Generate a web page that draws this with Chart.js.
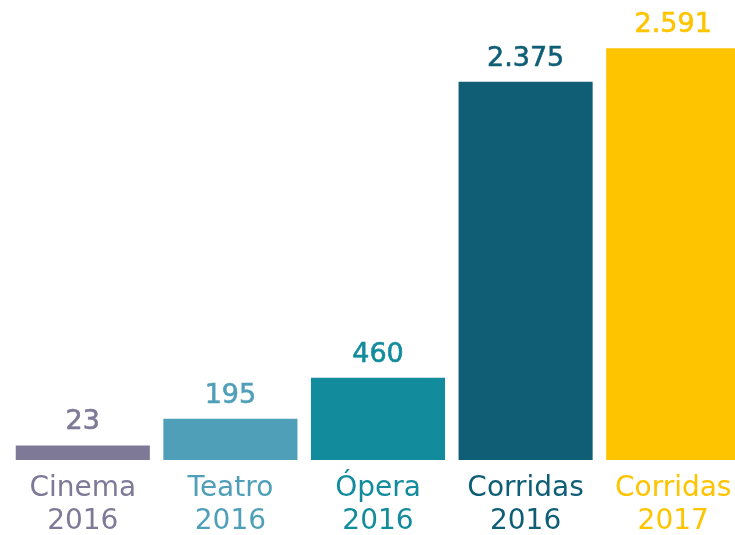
<!DOCTYPE html>
<html>
<head>
<meta charset="utf-8">
<script src="https://cdn.jsdelivr.net/npm/chart.js@4/dist/chart.umd.min.js"></script>
<style>
  html, body { margin: 0; padding: 0; background: #ffffff; overflow: hidden; }
  #wrap { position: relative; width: 747px; height: 550px; }
</style>
</head>
<body>
<div id="wrap"><canvas id="c"></canvas></div>
<script>
const categories = [["Cinema", "2016"], ["Teatro", "2016"], ["Ópera", "2016"], ["Corridas", "2016"], ["Corridas", "2017"]];
const values = [23, 195, 460, 2375, 2591];
const colors = ["#7e7996", "#4f9fb8", "#128c9c", "#0f5e76", "#fec400"];
const axisMin = -71;
const axisMax = 2903;

const FONT = '"DejaVu Sans", sans-serif';

function fmt(v) {
  return String(v).replace(/\B(?=(\d{3})+(?!\d))/g, ".");
}

const valueLabels = {
  id: "valueLabels",
  afterDatasetsDraw(chart) {
    const ctx = chart.ctx;
    const meta = chart.getDatasetMeta(0);
    ctx.save();
    ctx.font = "27px " + FONT;
    ctx.textAlign = "center";
    ctx.textBaseline = "alphabetic";
    ctx.lineWidth = 0.6;
    meta.data.forEach((bar, i) => {
      ctx.fillStyle = colors[i];
      ctx.strokeStyle = colors[i];
      ctx.fillText(fmt(values[i]), bar.x, bar.y - 16);
      ctx.strokeText(fmt(values[i]), bar.x, bar.y - 16);
    });
    ctx.restore();
  }
};

new Chart(document.getElementById("c"), {
  type: "bar",
  data: {
    labels: categories,
    datasets: [{
      data: values,
      backgroundColor: colors,
      borderWidth: 0,
      base: axisMin,
      categoryPercentage: 1,
      barPercentage: 0.9085
    }]
  },
  options: {
    responsive: true,
    maintainAspectRatio: false,
    animation: false,
    layout: { padding: { left: 9, right: 0, top: 0, bottom: 0 } },
    plugins: { legend: { display: false }, tooltip: { enabled: false } },
    scales: {
      x: {
        grid: { display: false, drawTicks: false },
        border: { display: false },
        ticks: {
          padding: 12,
          maxRotation: 0,
          autoSkip: false,
          color: (c) => colors[c.index],
          font: { family: FONT, size: 28, weight: "400", lineHeight: 1.18 }
        }
      },
      y: {
        display: false,
        min: axisMin,
        max: axisMax
      }
    }
  },
  plugins: [valueLabels]
});
</script>
</body>
</html>
